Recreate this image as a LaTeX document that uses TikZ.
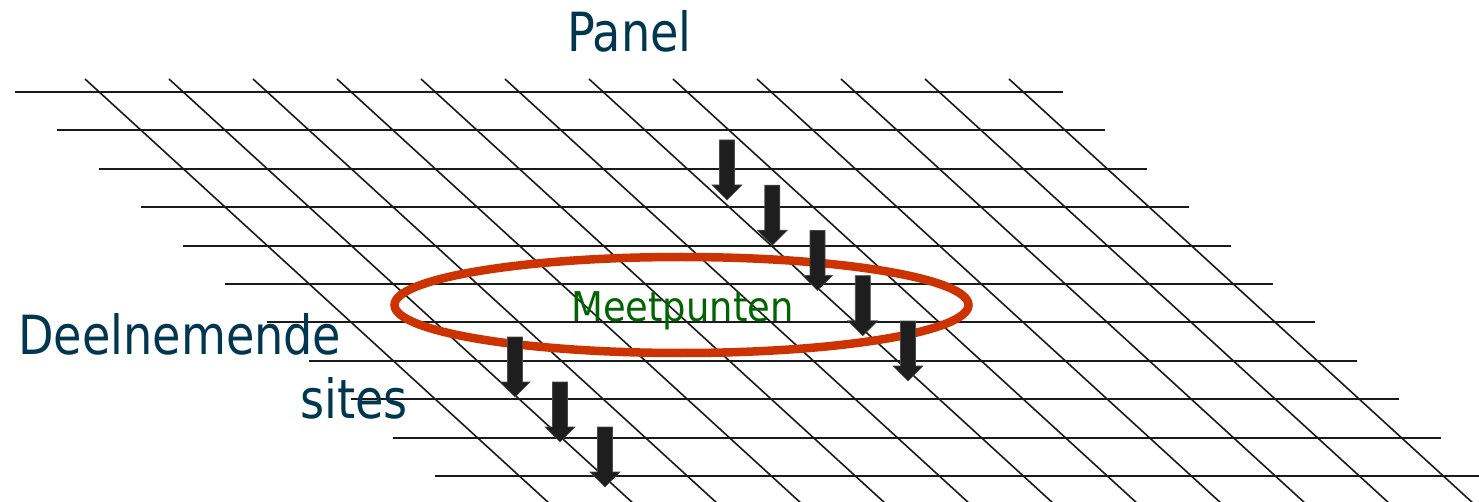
\documentclass[tikz,border=0pt]{standalone}
\usepackage{fontspec}
\newfontfamily\lblfont[FakeStretch=0.95]{DejaVu Sans Condensed}
\newfontfamily\ptfont{DejaVu Sans Condensed}
\definecolor{txtblue}{HTML}{003650}
\definecolor{ptgreen}{HTML}{006400}
\definecolor{ringred}{HTML}{CC3300}
\definecolor{arrowblk}{HTML}{1E1E1E}
\definecolor{gridblk}{HTML}{1A1A1A}
\tikzset{
  hline/.style={draw=gridblk, line width=2pt},
  dline/.style={draw=gridblk, line width=1.6pt},
  ring/.style={draw=ringred, line width=8.5pt},
  blockarrow/.style={fill=arrowblk, draw=arrowblk!80, line width=0.6pt},
  bluetext/.style={anchor=base west, inner sep=0pt, text=txtblue, font=\lblfont\fontsize{54}{60}\selectfont},
  greentext/.style={anchor=base west, inner sep=0pt, text=ptgreen, font=\ptfont\fontsize{41}{46}\selectfont}
}
\begin{document}
\begin{tikzpicture}[x=1pt,y=-1pt]
\useasboundingbox (0,0) rectangle (1479,502);
\begin{scope}
\clip (0,0) rectangle (1479,502);
% horizontal lines of the panel
\foreach \i in {0,...,10} {
  \path[hline] ({15+42*\i},{92+38.4*\i}) -- ({1063+42*\i},{92+38.4*\i});
}
% slanted lines
\foreach \j in {0,...,11} {
  \path[dline] ({85+84*\j},79) -- ({85+84*\j+1.094*440},519);
}
\end{scope}
% ellipse around the measuring points
\draw[ring] (681.5,305) ellipse [x radius=287, y radius=48];
% text
\node[bluetext] (panel) at (567,52) {Panel};
\node[bluetext] (deel) at (18,354) {Deelnemende};
\node[bluetext] (sites) at (300,418) {sites};
\node[greentext] (meet) at (571,322) {Meetpunten};
% block arrows: tip at given point
\foreach \tx/\ty in {727/200, 772.25/245.25, 817.5/290.5, 862.75/335.75, 908/381, 515/397, 560/442, 605/487} {
  \path[blockarrow] (\tx,\ty) -- ++(-15,-15) -- ++(7.5,0) -- ++(0,-45) -- ++(15,0) -- ++(0,45) -- ++(7.5,0) -- cycle;
}
\end{tikzpicture}
\end{document}
